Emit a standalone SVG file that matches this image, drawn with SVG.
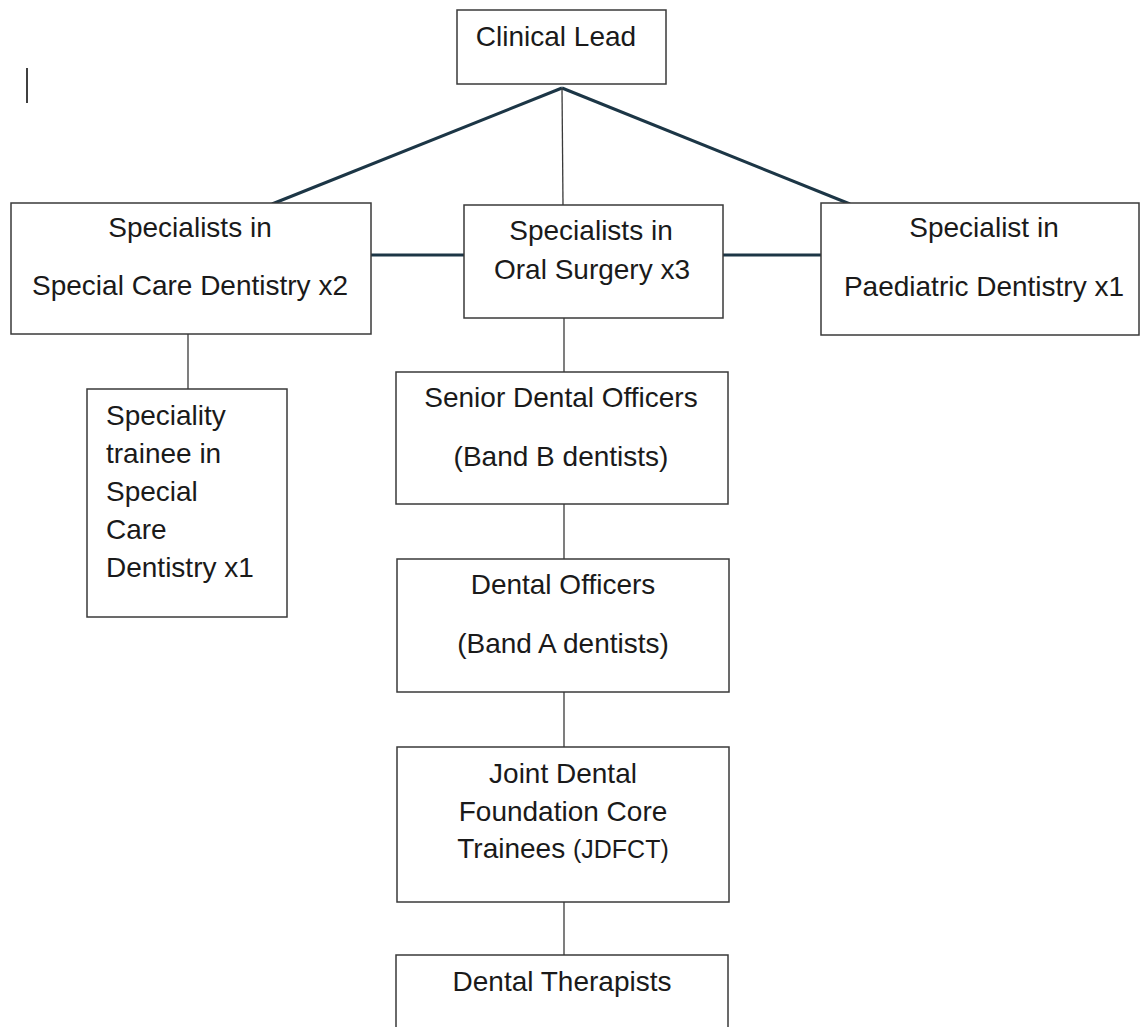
<svg xmlns="http://www.w3.org/2000/svg" width="1140" height="1027" viewBox="0 0 1140 1027">
<style>
.box{fill:#ffffff;stroke:#3a3a3a;stroke-width:1.5}
.t{font-family:"Liberation Sans",Arial,sans-serif;font-size:28px;fill:#1a1a1a}
.c{text-anchor:middle}
.thick{stroke:#1c3646;stroke-width:3;fill:none}
.thin{stroke:#3a3a3a;stroke-width:1.3;fill:none}
</style>
<rect width="1140" height="1027" fill="#ffffff"/>
<line x1="27" y1="68" x2="27" y2="103" stroke="#000" stroke-width="1.5"/>
<g id="connectors">
<line class="thick" x1="562" y1="88" x2="272" y2="204"/>
<line class="thick" x1="562" y1="88" x2="850" y2="204"/>
<line class="thin" x1="562" y1="88" x2="563" y2="205"/>
<line class="thick" x1="371" y1="255" x2="464" y2="255"/>
<line class="thick" x1="723" y1="255" x2="821" y2="255"/>
<line class="thin" x1="188" y1="334" x2="188" y2="389"/>
<line class="thin" x1="564" y1="318" x2="564" y2="372"/>
<line class="thin" x1="564" y1="504" x2="564" y2="559"/>
<line class="thin" x1="564" y1="692" x2="564" y2="747"/>
<line class="thin" x1="564" y1="902" x2="564" y2="955"/>
</g>
<g id="clinical-lead">
<rect class="box" x="457" y="10" width="209" height="74"/>
<text class="t c" x="556" y="46">Clinical Lead</text>
</g>
<g id="special-care">
<rect class="box" x="11" y="203" width="360" height="131"/>
<text class="t c" x="190" y="237">Specialists in</text>
<text class="t c" x="190" y="295">Special Care Dentistry x2</text>
</g>
<g id="oral-surgery">
<rect class="box" x="464" y="205" width="259" height="113"/>
<text class="t c" x="591" y="240">Specialists in</text>
<text class="t c" x="592" y="279">Oral Surgery x3</text>
</g>
<g id="paediatric">
<rect class="box" x="821" y="203" width="318" height="132"/>
<text class="t c" x="984" y="237">Specialist in</text>
<text class="t c" x="984" y="296">Paediatric Dentistry x1</text>
</g>
<g id="speciality-trainee">
<rect class="box" x="87" y="389" width="200" height="228"/>
<text class="t" x="106" y="425">Speciality</text>
<text class="t" x="106" y="463">trainee in</text>
<text class="t" x="106" y="501">Special</text>
<text class="t" x="106" y="539">Care</text>
<text class="t" x="106" y="577">Dentistry x1</text>
</g>
<g id="senior-dental-officers">
<rect class="box" x="396" y="372" width="332" height="132"/>
<text class="t c" x="561" y="407">Senior Dental Officers</text>
<text class="t c" x="561" y="466">(Band B dentists)</text>
</g>
<g id="dental-officers">
<rect class="box" x="397" y="559" width="332" height="133"/>
<text class="t c" x="563" y="594">Dental Officers</text>
<text class="t c" x="563" y="653">(Band A dentists)</text>
</g>
<g id="jdfct">
<rect class="box" x="397" y="747" width="332" height="155"/>
<text class="t c" x="563" y="783">Joint Dental</text>
<text class="t c" x="563" y="821">Foundation Core</text>
<text class="t c" x="563" y="858">Trainees <tspan font-size="25">(JDFCT)</tspan></text>
</g>
<g id="dental-therapists">
<rect class="box" x="396" y="955" width="332" height="90"/>
<text class="t c" x="562" y="991">Dental Therapists</text>
</g>
</svg>
